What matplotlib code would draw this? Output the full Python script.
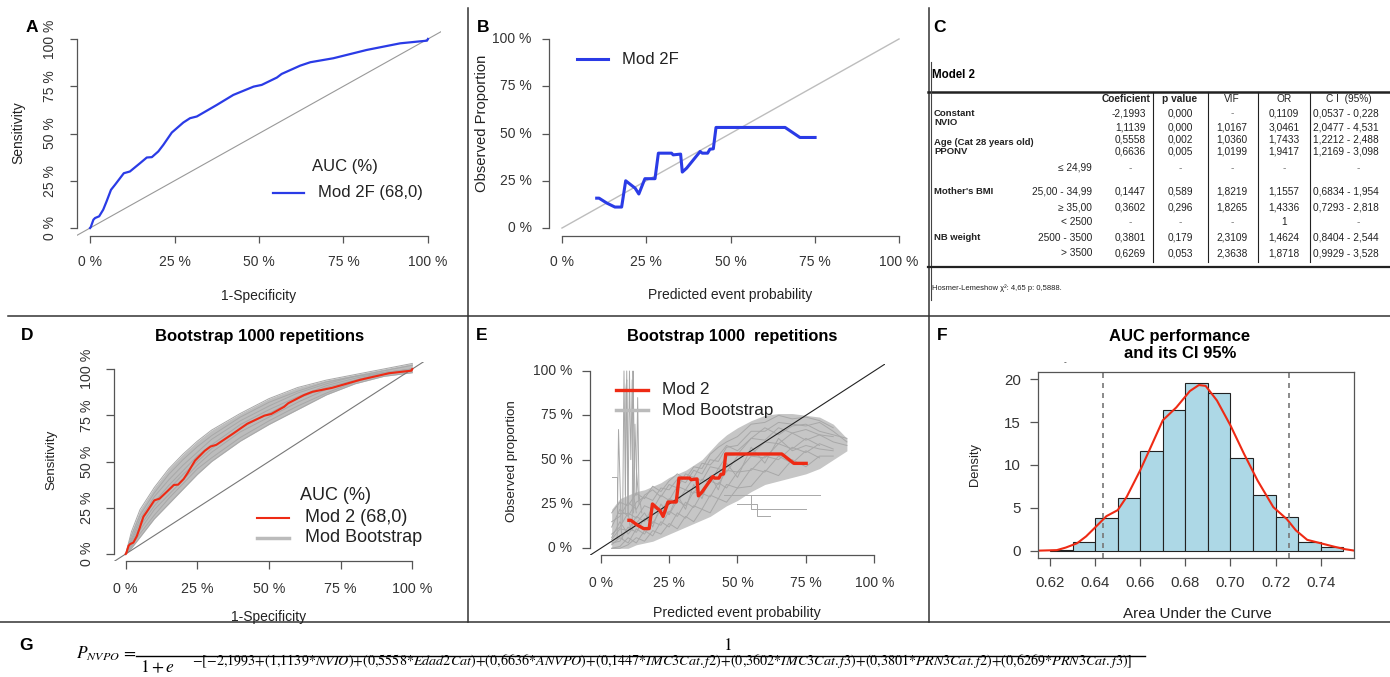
import matplotlib
matplotlib.use('Agg')
import matplotlib.pyplot as plt
import numpy as np

plt.rcParams['font.family'] = ['Liberation Sans', 'DejaVu Sans']
plt.rcParams['mathtext.fontset'] = 'stix'

W, H = 1390, 677
nan = np.nan

# ROC curve of Mod 2 (panels A and D)
roc_fpr = [0, 0.002, 0.01, 0.015, 0.027, 0.039, 0.049, 0.062, 0.074, 0.10, 0.118, 0.148,
           0.168, 0.183, 0.202, 0.217, 0.242, 0.276, 0.296, 0.316, 0.375, 0.424, 0.484,
           0.508, 0.553, 0.567, 0.622, 0.652, 0.72, 0.819, 0.918, 0.997, 1.0]
roc_tpr = [0, 0.004, 0.044, 0.053, 0.062, 0.097, 0.141, 0.202, 0.229, 0.29, 0.299, 0.343,
           0.373, 0.375, 0.405, 0.44, 0.505, 0.558, 0.581, 0.59, 0.651, 0.704, 0.748,
           0.757, 0.796, 0.815, 0.859, 0.877, 0.898, 0.942, 0.977, 0.991, 1.0]

# calibration curve of Mod 2 (panels B and E)
cal_pred = [0.103, 0.11, 0.133, 0.157, 0.177, 0.189, 0.217, 0.228, 0.246, 0.276, 0.286,
            0.325, 0.33, 0.352, 0.357, 0.37, 0.39, 0.41, 0.416, 0.432, 0.439, 0.449,
            0.457, 0.503, 0.662, 0.706, 0.751]
cal_obs = [0.158, 0.158, 0.132, 0.111, 0.111, 0.25, 0.211, 0.18, 0.261, 0.261, 0.396,
           0.396, 0.387, 0.391, 0.296, 0.317, 0.361, 0.405, 0.396, 0.396, 0.417, 0.419,
           0.532, 0.532, 0.532, 0.479, 0.479]

# some bootstrap ROC curves
boot_fpr = [0, 0.02, 0.05, 0.10, 0.15, 0.20, 0.25, 0.30, 0.40, 0.50, 0.60, 0.70, 0.80, 0.90, 1.00]
boot_roc = [
    [0, 0.12, 0.24, 0.36, 0.46, 0.54, 0.61, 0.67, 0.76, 0.84, 0.90, 0.94, 0.97, 1.00, 1.03],
    [0, 0.10, 0.21, 0.33, 0.43, 0.51, 0.58, 0.64, 0.74, 0.82, 0.88, 0.93, 0.96, 0.99, 1.02],
    [0, 0.08, 0.19, 0.31, 0.40, 0.48, 0.55, 0.62, 0.72, 0.80, 0.87, 0.92, 0.96, 0.98, 1.00],
    [0, 0.07, 0.17, 0.28, 0.37, 0.45, 0.53, 0.59, 0.70, 0.78, 0.85, 0.91, 0.95, 0.98, 1.00],
    [0, 0.06, 0.15, 0.26, 0.35, 0.43, 0.50, 0.57, 0.68, 0.76, 0.84, 0.90, 0.94, 0.98, 1.00],
    [0, 0.05, 0.13, 0.24, 0.32, 0.40, 0.48, 0.55, 0.66, 0.74, 0.82, 0.89, 0.94, 0.97, 1.00],
    [0, 0.04, 0.11, 0.21, 0.30, 0.38, 0.46, 0.52, 0.63, 0.72, 0.80, 0.87, 0.93, 0.97, 0.99],
    [0, 0.03, 0.09, 0.19, 0.27, 0.35, 0.43, 0.50, 0.61, 0.70, 0.78, 0.86, 0.92, 0.96, 0.98],
]

# some bootstrap calibration curves
boot_pred = [0.04, 0.07, 0.10, 0.13, 0.16, 0.19, 0.22, 0.25, 0.28, 0.31, 0.34, 0.37,
             0.40, 0.43, 0.46, 0.50, 0.55, 0.60, 0.65, 0.70, 0.75, 0.80, 0.85, 0.90]
boot_low = [0.00, 0.00, 0.00, 0.02, 0.03, 0.04, 0.06, 0.08, 0.10, 0.12, 0.14, 0.16,
            0.18, 0.21, 0.24, 0.27, 0.32, 0.36, 0.38, 0.40, 0.42, 0.45, 0.50, 0.55]
boot_high = [0.22, 0.28, 0.30, 0.32, 0.33, 0.35, 0.37, 0.40, 0.42, 0.44, 0.47, 0.50,
             0.55, 0.60, 0.64, 0.68, 0.72, 0.75, 0.76, 0.76, 0.75, 0.74, 0.70, 0.62]
boot_cal = [
    [0.20, 0.26, 0.24, 0.31, 0.28, 0.35, 0.32, 0.38, 0.42, 0.39, 0.46, 0.45, 0.53, 0.57, 0.60, 0.63, 0.70, 0.71, 0.75, 0.73, 0.74, 0.72, 0.68, nan],
    [0.12, 0.22, 0.18, 0.26, 0.29, 0.27, 0.34, 0.33, 0.39, 0.37, 0.44, 0.42, 0.50, 0.49, 0.57, 0.58, 0.66, 0.66, 0.71, 0.70, 0.69, 0.71, 0.66, 0.60],
    [0.08, 0.12, 0.20, 0.17, 0.24, 0.22, 0.30, 0.27, 0.35, 0.33, 0.40, 0.38, 0.46, 0.45, 0.52, 0.53, 0.62, 0.61, 0.68, 0.65, 0.67, 0.64, 0.63, nan],
    [0.05, 0.11, 0.10, 0.18, 0.15, 0.23, 0.21, 0.28, 0.26, 0.33, 0.31, 0.39, 0.37, 0.45, 0.43, 0.52, 0.53, 0.60, 0.59, 0.65, 0.61, 0.64, 0.60, 0.58],
    [0.03, 0.04, 0.12, 0.09, 0.17, 0.14, 0.22, 0.19, 0.27, 0.24, 0.32, 0.30, 0.38, 0.36, 0.44, 0.43, 0.52, 0.51, 0.59, 0.56, 0.62, 0.58, nan, nan],
    [0.02, 0.06, 0.03, 0.11, 0.08, 0.15, 0.13, 0.21, 0.18, 0.26, 0.23, 0.31, 0.29, 0.37, 0.34, 0.43, 0.44, 0.52, 0.50, 0.57, 0.54, 0.59, 0.56, nan],
    [0.00, 0.01, 0.06, 0.03, 0.10, 0.07, 0.15, 0.12, 0.20, 0.17, 0.24, 0.22, 0.30, 0.28, 0.36, 0.34, 0.45, 0.43, 0.52, 0.48, 0.55, 0.51, nan, nan],
    [0.00, 0.00, 0.02, 0.06, 0.04, 0.10, 0.08, 0.14, 0.11, 0.18, 0.15, 0.22, 0.20, 0.28, 0.26, 0.34, 0.35, 0.44, 0.41, 0.50, 0.46, 0.52, 0.52, nan],
    [0.15, 0.18, 0.26, 0.22, 0.30, 0.33, 0.29, 0.36, 0.34, 0.42, 0.40, 0.48, 0.47, 0.52, 0.58, 0.55, 0.62, 0.68, 0.64, 0.69, 0.70, 0.66, 0.64, 0.62],
    [0.06, 0.15, 0.08, 0.14, 0.20, 0.12, 0.25, 0.19, 0.30, 0.22, 0.36, 0.28, 0.41, 0.33, 0.48, 0.40, 0.57, 0.48, 0.62, 0.55, 0.58, 0.56, 0.55, nan],
]
# stray bootstrap traces (spikes at low risk, flat tails at high risk)
stray_x = [[0.08, 0.085, 0.09, 0.095, 0.10, 0.11],
           [0.10, 0.105, 0.11, 0.115, 0.12, 0.13],
           [0.06, 0.065, 0.07, 0.075, 0.08],
           [0.13, 0.135, 0.14, 0.15],
           [0.09, 0.092, 0.095, 0.10],
           [0.115, 0.118, 0.12, 0.125],
           [0.12, 0.125, 0.13, 0.14],
           [0.04, 0.06, 0.06, 0.10],
           [0.55, 0.60, 0.60, 0.80],
           [0.50, 0.57, 0.57, 0.62],
           [0.45, 0.55, 0.55, 0.75]]
stray_y = [[0.15, 1.00, 0.30, 1.00, 0.20, 0.10],
           [0.25, 1.00, 0.50, 0.95, 0.30, 0.20],
           [0.05, 0.67, 0.40, 0.10, 0.05],
           [0.30, 0.85, 0.30, 0.20],
           [0.20, 0.90, 0.95, 0.20],
           [0.10, 1.00, 0.80, 0.30],
           [0.20, 0.70, 0.45, 0.25],
           [0.40, 0.40, 0.20, 0.20],
           [0.30, 0.30, 0.30, 0.30],
           [0.25, 0.25, 0.18, 0.18],
           [0.30, 0.30, 0.22, 0.22]]

# panel F: bootstrap AUC histogram, density and CI 95 %
auc_left = [0.62, 0.63, 0.64, 0.65, 0.66, 0.67, 0.68, 0.69, 0.70, 0.71, 0.72, 0.73, 0.74]
auc_dens = [0.15, 1.0, 3.86, 6.18, 11.6, 16.4, 19.5, 18.4, 10.8, 6.5, 4.0, 1.0, 0.5]
kde_x = [0.6148, 0.623, 0.627, 0.632, 0.636, 0.641, 0.645, 0.650, 0.654, 0.660, 0.664,
         0.670, 0.676, 0.682, 0.686, 0.689, 0.694, 0.700, 0.706, 0.712, 0.719, 0.725,
         0.729, 0.734, 0.740, 0.746, 0.751, 0.755]
kde_y = [0.04, 0.1, 0.4, 0.9, 1.7, 3.0, 4.05, 4.75, 6.3, 9.4, 11.7, 15.2, 16.7, 18.6,
         19.3, 19.2, 17.5, 14.6, 11.3, 8.2, 5.1, 3.7, 2.4, 1.3, 0.9, 0.5, 0.2, 0.04]
auc_ci = [0.6436, 0.7258]

# panel C table
tab_cols = ['Coeficient', 'p value', 'VIF', 'OR', 'C I  (95%)']
tab_coef = ['-2,1993', '1,1139', '0,5558', '0,6636', '-', '0,1447', '0,3602', '-', '0,3801', '0,6269']
tab_p = ['0,000', '0,000', '0,002', '0,005', '-', '0,589', '0,296', '-', '0,179', '0,053']
tab_vif = ['-', '1,0167', '1,0360', '1,0199', '-', '1,8219', '1,8265', '-', '2,3109', '2,3638']
tab_or = ['0,1109', '3,0461', '1,7433', '1,9417', '-', '1,1557', '1,4336', '1', '1,4624', '1,8718']
tab_ci = ['0,0537 - 0,228', '2,0477 - 4,531', '1,2212 - 2,488', '1,2169 - 3,098', '-',
          '0,6834 - 1,954', '0,7293 - 2,818', '-', '0,8404 - 2,544', '0,9929 - 3,528']
tab_sub = ['', '', '', '', '≤ 24,99', '25,00 - 34,99', '≥ 35,00', '< 2500', '2500 - 3500', '> 3500']
tab_row_y = [113, 127, 139, 151, 168, 191, 207, 222, 238, 253]
tab_names = ['Constant', 'NVIO', 'Age (Cat 28 years old)', 'PPONV', "Mother's BMI", 'NB weight']
tab_name_y = [113.5, 122.8, 142.3, 151.5, 191, 238]

# panel G formula
eq_const = '-2,1993'
eq_coef = ['1,1139', '0,5558', '0,6636', '0,1447', '0,3602', '0,3801', '0,6269']
eq_vars = ['NVIO', 'Edad2Cat', 'ANVPO', 'IMC3Cat.f2', 'IMC3Cat.f3', 'PRN3Cat.f2', 'PRN3Cat.f3']

pct_ticks = [0, 0.25, 0.5, 0.75, 1.0]
pct_labels = ['0 %', '25 %', '50 %', '75 %', '100 %']

BLUE = '#2a3be6'
RED = '#ee2a14'
GREY = '#a8a8a8'

fig = plt.figure(figsize=(W / 100, H / 100), dpi=100)


def px_axes(l, t, r, b):
    return fig.add_axes([l / W, 1 - b / H, (r - l) / W, (b - t) / H])


def r_axes(ax, size, xpad, ypad, yrot, tlen=5):
    ax.set_xlim(-0.04, 1.04)
    ax.set_ylim(-0.04, 1.04)
    for s in ['top', 'right']:
        ax.spines[s].set_visible(False)
    for s in ['left', 'bottom']:
        ax.spines[s].set_color('#555555')
        ax.spines[s].set_linewidth(0.9)
        ax.spines[s].set_bounds(0, 1)
    ax.set_xticks(pct_ticks)
    ax.set_xticklabels(pct_labels)
    ax.set_yticks(pct_ticks)
    ax.set_yticklabels(pct_labels, rotation=yrot, va='center')
    ax.tick_params(direction='out', length=tlen, width=0.9, color='#555555',
                   labelcolor='#333333', labelsize=size)
    ax.tick_params(axis='x', pad=xpad)
    ax.tick_params(axis='y', pad=ypad)
    ax.patch.set_alpha(0)


# A
axA = px_axes(76.5, 31.4, 441.5, 235.6)
r_axes(axA, 10, 9, 9, 90)
axA.plot([-0.04, 1.04], [-0.04, 1.04], color='#999999', lw=0.8)
axA.plot(roc_fpr, roc_tpr, color=BLUE, lw=1.6)

# B
axB = px_axes(548.5, 31.4, 912.5, 235.6)
r_axes(axB, 10, 9, 7, 0)
axB.plot([0, 1], [0, 1], color='#bdbdbd', lw=1.0)
axB.plot(cal_pred, cal_obs, color=BLUE, lw=2.2)

# D
axD = px_axes(114.2, 361.6, 423.8, 561.4)
r_axes(axD, 10.3, 8.5, 8.5, 90, tlen=6)
axD.fill_between(boot_fpr, boot_roc[-1], boot_roc[0], color='#bcbcbc', lw=0)
for curve in boot_roc:
    axD.plot(boot_fpr, curve, color=GREY, lw=0.7)
axD.plot([-0.04, 1.04], [-0.04, 1.04], color='#777777', lw=0.8)
axD.plot(roc_fpr, roc_tpr, color=RED, lw=1.5)

# E
axE = px_axes(589.8, 363.9, 885.2, 555.4)
r_axes(axE, 10, 8.5, 6.5, 0, tlen=6)
axE.fill_between(boot_pred, boot_low, boot_high, color='#c6c6c6', lw=0)
for curve in boot_cal:
    axE.plot(boot_pred, curve, color=GREY, lw=0.7)
for xs, ys in zip(stray_x, stray_y):
    axE.plot(xs, ys, color=GREY, lw=0.7)
axE.plot([-0.04, 1.04], [-0.04, 1.04], color='#222222', lw=0.8)
axE.plot(cal_pred, cal_obs, color=RED, lw=2.4)

# F
axF = px_axes(1038.3, 371.7, 1354.3, 558.3)
axF.bar(auc_left, auc_dens, width=0.01, align='edge', color='#add8e6',
        edgecolor='#222222', lw=0.8)
axF.plot(kde_x, kde_y, color=RED, lw=1.5)
for v in auc_ci:
    axF.axvline(v, color='#777777', lw=1.2, ls=(0, (3, 3)))
axF.set_xlim(0.6148, 0.7549)
axF.set_ylim(-0.85, 20.85)
axF.set_xticks([0.62, 0.64, 0.66, 0.68, 0.70, 0.72, 0.74])
axF.set_xticklabels(['0.62', '0.64', '0.66', '0.68', '0.70', '0.72', '0.74'])
axF.set_yticks([0, 5, 10, 15, 20])
axF.tick_params(direction='out', length=6, width=0.9, color='#555555',
                labelcolor='#333333', labelsize=10.8)
axF.tick_params(axis='x', pad=7)
axF.tick_params(axis='y', pad=6.5)
for s in axF.spines.values():
    s.set_color('#555555')
    s.set_linewidth(0.9)

# overlay in pixel coordinates for titles, labels, table, formula and frames
ov = fig.add_axes([0, 0, 1, 1], zorder=10)
ov.set_xlim(0, W)
ov.set_ylim(H, 0)
ov.axis('off')
ov.patch.set_alpha(0)


def t(x, y, s, **kw):
    kw.setdefault('ha', 'center')
    kw.setdefault('va', 'center')
    kw.setdefault('color', '#222222')
    ov.text(x, y, s, **kw)


# frame lines between panels
for x in [467.5, 928.5]:
    ov.plot([x, x], [8, 622], color='#333333', lw=1.1)
ov.plot([8, W], [316, 316], color='#333333', lw=1.1)
ov.plot([0, W], [622, 622], color='#333333', lw=1.1)

for lab, x, y in [('A', 32, 28), ('B', 483, 28), ('C', 940, 28), ('D', 27, 336),
                  ('E', 482, 336), ('F', 942, 335), ('G', 26, 645)]:
    t(x, y, lab, fontsize=12.5, fontweight='bold', color='black')

# axis labels and titles
t(18, 133, 'Sensitivity', fontsize=10, rotation=90)
t(259, 296, '1-Specificity', fontsize=10)
t(482, 123, 'Observed Proportion', fontsize=10.7, rotation=90)
t(730, 295, 'Predicted event probability', fontsize=10)
t(51, 460, 'Sensitivity', fontsize=9.6, rotation=90)
t(269, 617, '1-Specificity', fontsize=10)
t(260, 337, 'Bootstrap 1000 repetitions', fontsize=12, fontweight='bold', color='black')
t(512, 461, 'Observed proportion', fontsize=9.6, rotation=90)
t(737, 613, 'Predicted event probability', fontsize=10.2)
t(732, 337, 'Bootstrap 1000  repetitions', fontsize=11.8, fontweight='bold', color='black')
t(1180, 336, 'AUC performance', fontsize=12, fontweight='bold', color='black')
t(1180, 353, 'and its CI 95%', fontsize=12, fontweight='bold', color='black')
t(1065, 363, '-', fontsize=6)
t(975, 465, 'Density', fontsize=9.3, rotation=90)
t(1197, 614, 'Area Under the Curve', fontsize=11)

# legends
t(345, 167, 'AUC (%)', fontsize=12)
ov.plot([273, 304], [193, 193], color=BLUE, lw=1.6)
t(318, 193, 'Mod 2F (68,0)', fontsize=12, ha='left')

ov.plot([577, 608], [59, 59], color=BLUE, lw=2.2)
t(622, 59, 'Mod 2F', fontsize=12, ha='left')

t(335, 495, 'AUC (%)', fontsize=13)
ov.plot([257, 289], [518, 518], color=RED, lw=1.5)
t(305, 518, 'Mod 2 (68,0)', fontsize=13, ha='left')
ov.plot([257, 289], [538, 538], color='#bbbbbb', lw=2.5)
t(305, 538, 'Mod Bootstrap', fontsize=13, ha='left')

ov.plot([616, 648], [390, 390], color=RED, lw=2.4)
t(662, 390, 'Mod 2', fontsize=12.3, ha='left')
ov.plot([616, 648], [410, 410], color='#bbbbbb', lw=2.5)
t(662, 410, 'Mod Bootstrap', fontsize=12.3, ha='left')

# panel C table
t(932, 75, 'Model 2', fontsize=8.3, fontweight='bold', ha='left', color='black')
ov.plot([928, W], [92, 92], color='#222222', lw=1.8)
ov.plot([931, 931], [62, 300], color='#444444', lw=0.8)
for x in [1153, 1208, 1258, 1310]:
    ov.plot([x, x], [92, 262], color='#222222', lw=0.8)
ov.plot([928, W], [267, 267], color='#222222', lw=1.6)
t(1151, 99, tab_cols[0], fontsize=7.3, fontweight='bold', ha='right')
t(1180, 99, tab_cols[1], fontsize=7.3, fontweight='bold')
t(1232, 99, tab_cols[2], fontsize=7.3)
t(1284, 99, tab_cols[3], fontsize=7.3)
t(1349, 99, tab_cols[4], fontsize=7.3)
for name, y in zip(tab_names, tab_name_y):
    t(934, y, name, fontsize=6.8, fontweight='bold', ha='left')
for i, y in enumerate(tab_row_y):
    if tab_sub[i]:
        t(1092, y, tab_sub[i], fontsize=7.3, ha='right')
    if tab_coef[i] == '-':
        t(1130, y, '-', fontsize=7.3, color='#777777')
    else:
        t(1146, y, tab_coef[i], fontsize=7.3, ha='right')
    t(1180, y, tab_p[i], fontsize=7.3, color='#222222' if tab_p[i] != '-' else '#777777')
    t(1232, y, tab_vif[i], fontsize=7.3, color='#222222' if tab_vif[i] != '-' else '#777777')
    t(1284, y, tab_or[i], fontsize=7.3, color='#222222' if tab_or[i] != '-' else '#777777')
    if tab_ci[i] == '-':
        t(1358, y, '-', fontsize=7.3, color='#777777')
    else:
        t(1313, y, tab_ci[i], fontsize=7.3, ha='left')
t(932, 288, 'Hosmer-Lemeshow χ²: 4,65 p: 0,5888.', fontsize=5.5, ha='left')


# panel G formula
def mt(s):
    return s.replace(',', '{,}').replace('-', '{-}')


expo = '-[' + mt(eq_const) + ''.join('{+}(' + mt(c) + '{*}' + v + ')'
                                    for c, v in zip(eq_coef, eq_vars)) + ']'
t(76, 654, r'$P_{NVPO}\,=$', fontsize=12.5, ha='left', color='black')
ov.plot([136, 1145], [656, 656], color='black', lw=1.0)
t(727, 645, r'$1$', fontsize=12.5, color='black')
t(140, 667, r'$1+e$', fontsize=12.5, ha='left', color='black')
t(192, 661, '$' + expo + '$', fontsize=10.2, ha='left', color='black')

fig.savefig('out.png', dpi=100)
